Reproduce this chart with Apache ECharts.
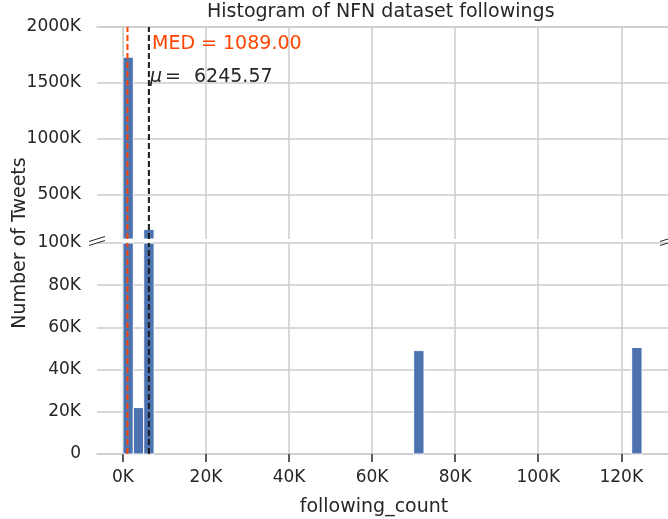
<!DOCTYPE html>
<html>
<head>
<meta charset="utf-8">
<script src="https://cdn.jsdelivr.net/npm/echarts@6/dist/echarts.min.js"></script>
<style>
html,body{margin:0;padding:0;background:#ffffff;}
#chart{width:668px;height:519px;}
</style>
</head>
<body>
<div id="chart"></div>
<script>
// ---- data ----
const binStarts = [0, 2500, 5000, 70000, 122500];
const binWidth = 2500;
const binCounts = [1730000, 22000, 186000, 49000, 50500];
const medianValue = 1089.00;
const meanValue = 6245.57;
const xTicks = [0, 20000, 40000, 60000, 80000, 100000, 120000];
const topTicks = [500000, 1000000, 1500000, 2000000];
const bottomTicks = [0, 20000, 40000, 60000, 80000, 100000];
const xRange = [-6250, 131250];
const topRange = [100000, 2000000];
const bottomRange = [0, 100000];
const titleText = 'Histogram of NFN dataset followings';
const xLabelText = 'following_count';
const yLabelText = 'Number of Tweets';

// ---- styles ----
const FONT = '"DejaVu Sans", "Noto Sans", sans-serif';
const TEXT = '#262626';
const GRID = '#cccccc';
const BAR = '#4C72B0';
const MED_COLOR = '#FF4500';
const MEAN_COLOR = '#1a1a1a';

const binData = binStarts.map((s, i) => [s, s + binWidth, binCounts[i]]);

function kFmt(v) { return (v / 1000) + 'K'; }

function makeRender(range) {
  return function (params, api) {
    const x0 = api.value(0), x1 = api.value(1), c = api.value(2);
    if (c <= range[0]) return null;
    const top = Math.min(c, range[1]);
    const p0 = api.coord([x0, top]);
    const p1 = api.coord([x1, range[0]]);
    return {
      type: 'rect',
      shape: { x: p0[0], y: p0[1], width: p1[0] - p0[0], height: p1[1] - p0[1] },
      style: { fill: BAR, stroke: '#ffffff', lineWidth: 1 }
    };
  };
}

function vLine(value, range, color, gi) {
  return {
    type: 'line', xAxisIndex: gi, yAxisIndex: gi,
    data: [[value, range[0]], [value, range[1]]],
    symbol: 'none', silent: true, z: 5, animation: false,
    lineStyle: { color: color, width: 2, type: [6, 3] }
  };
}

const chart = echarts.init(document.getElementById('chart'), null, { renderer: 'canvas' });
chart.setOption({
  animation: false,
  backgroundColor: '#ffffff',
  textStyle: { fontFamily: FONT, color: TEXT },
  title: {
    text: titleText, left: 207, top: 2, padding: 0,
    textStyle: { fontFamily: FONT, fontSize: 19, fontWeight: 'normal', color: TEXT, lineHeight: 20 }
  },
  grid: [
    { left: 97, right: 0, top: 27, height: 212 },
    { left: 97, right: 0, top: 243, height: 211 }
  ],
  xAxis: [
    {
      type: 'value', gridIndex: 0, min: xRange[0], max: xRange[1], position: 'top',
      axisLine: { show: true, lineStyle: { color: GRID, width: 1.5 } },
      axisTick: { show: false, customValues: xTicks },
      axisLabel: { show: false, customValues: xTicks },
      splitLine: { show: true, lineStyle: { color: GRID, width: 1.5 } }
    },
    {
      type: 'value', gridIndex: 1, min: xRange[0], max: xRange[1], position: 'bottom',
      axisLine: { show: true, onZero: false, lineStyle: { color: GRID, width: 1.5 } },
      axisTick: { show: true, length: 8, customValues: xTicks, lineStyle: { color: TEXT, width: 1.5 } },
      axisLabel: { customValues: xTicks, formatter: kFmt, margin: 15, fontSize: 17, color: TEXT, fontFamily: FONT },
      splitLine: { show: true, lineStyle: { color: GRID, width: 1.5 } }
    }
  ],
  yAxis: [
    {
      type: 'value', gridIndex: 0, min: topRange[0], max: topRange[1],
      axisLine: { show: true, lineStyle: { color: GRID, width: 1.5 } },
      axisTick: { show: false, customValues: topTicks },
      axisLabel: { customValues: topTicks, formatter: kFmt, margin: 16, fontSize: 17, color: TEXT, fontFamily: FONT },
      splitLine: { show: true, lineStyle: { color: GRID, width: 1.5 } }
    },
    {
      type: 'value', gridIndex: 1, min: bottomRange[0], max: bottomRange[1], interval: 20000,
      axisLine: { show: true, lineStyle: { color: GRID, width: 1.5 } },
      axisTick: { show: false },
      axisLabel: { formatter: v => v === 0 ? '0' : kFmt(v), margin: 16, fontSize: 17, color: TEXT, fontFamily: FONT },
      splitLine: { show: true, lineStyle: { color: GRID, width: 1.5 } }
    }
  ],
  series: [
    { type: 'custom', xAxisIndex: 0, yAxisIndex: 0, data: binData, encode: { x: [0, 1], y: 2 }, renderItem: makeRender(topRange), z: 2 },
    { type: 'custom', xAxisIndex: 1, yAxisIndex: 1, data: binData, encode: { x: [0, 1], y: 2 }, renderItem: makeRender(bottomRange), z: 2 },
    vLine(medianValue, topRange, MED_COLOR, 0),
    vLine(medianValue, bottomRange, MED_COLOR, 1),
    vLine(meanValue, topRange, MEAN_COLOR, 0),
    vLine(meanValue, bottomRange, MEAN_COLOR, 1)
  ],
  graphic: [
    { type: 'text', x: 152, y: 44, z: 10, style: { text: 'MED = ' + medianValue.toFixed(2), font: '19px ' + FONT, fill: MED_COLOR, verticalAlign: 'middle' } },
    { type: 'text', x: 150, y: 77, z: 10, style: { text: 'μ', font: 'italic 19px ' + FONT, fill: TEXT, verticalAlign: 'middle' } },
    { type: 'text', x: 165, y: 77, z: 10, style: { text: '=', font: '19px ' + FONT, fill: TEXT, verticalAlign: 'middle' } },
    { type: 'text', x: 194, y: 77, z: 10, style: { text: meanValue.toFixed(2), font: '19px ' + FONT, fill: TEXT, verticalAlign: 'middle' } },
    { type: 'text', x: 374, y: 507, style: { text: xLabelText, font: '19px ' + FONT, fill: TEXT, align: 'center', verticalAlign: 'middle' } },
    { type: 'text', x: 20, y: 243, rotation: Math.PI / 2, style: { text: yLabelText, font: '19px ' + FONT, fill: TEXT, align: 'center', verticalAlign: 'middle' } },
    { type: 'line', z: 10, shape: { x1: 89, y1: 241.5, x2: 105, y2: 236.5 }, style: { stroke: TEXT, lineWidth: 1 } },
    { type: 'line', z: 10, shape: { x1: 89, y1: 245.5, x2: 105, y2: 240.5 }, style: { stroke: TEXT, lineWidth: 1 } },
    { type: 'line', z: 10, shape: { x1: 660, y1: 241.5, x2: 676, y2: 236.5 }, style: { stroke: TEXT, lineWidth: 1 } },
    { type: 'line', z: 10, shape: { x1: 660, y1: 245.5, x2: 676, y2: 240.5 }, style: { stroke: TEXT, lineWidth: 1 } }
  ]
});
</script>
</body>
</html>
